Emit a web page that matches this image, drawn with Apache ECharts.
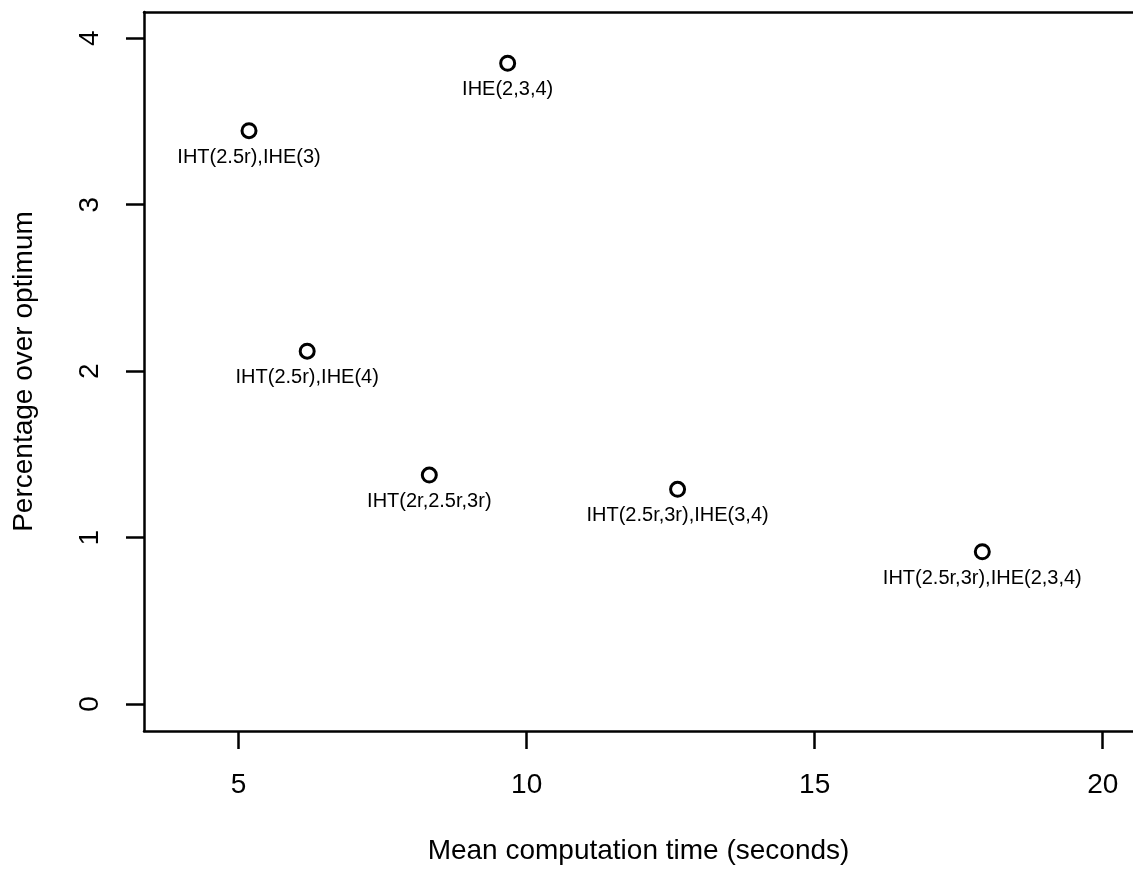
<!DOCTYPE html>
<html>
<head>
<meta charset="utf-8">
<script src="https://cdn.jsdelivr.net/npm/echarts@6/dist/echarts.min.js"></script>
<style>
  html, body { margin: 0; padding: 0; background: #fff; }
  #main { width: 1133px; height: 874px; }
</style>
</head>
<body>
<div id="main"></div>
<script>
// 方法名称、平均计算时间、超出最优百分比
var methods = ['IHT(2.5r),IHE(3)', 'IHE(2,3,4)', 'IHT(2.5r),IHE(4)', 'IHT(2r,2.5r,3r)', 'IHT(2.5r,3r),IHE(3,4)', 'IHT(2.5r,3r),IHE(2,3,4)'];
var meanTime = [5.18, 9.67, 6.19, 8.31, 12.62, 17.91];
var pctOver = [3.445, 3.85, 2.12, 1.376, 1.29, 0.915];
var xTicks = [5, 10, 15, 20];
var yTicks = [0, 1, 2, 3, 4];

var points = methods.map(function (m, i) {
    return { name: m, value: [meanTime[i], pctOver[i]] };
});

var myChart = echarts.init(document.getElementById('main'));
var font = 'Liberation Sans, Arial, sans-serif';
var xMin = 3.357, xMax = 20.526;

var option = {
    backgroundColor: '#fff',
    animation: false,
    grid: { left: 144, top: 12, right: 0, bottom: 143 },
    xAxis: [
        {
            type: 'value',
            min: xMin, max: xMax,
            name: 'Mean computation time (seconds)',
            nameLocation: 'middle',
            nameGap: 106,
            nameTextStyle: { fontFamily: font, fontSize: 28, color: '#000' },
            splitLine: { show: false },
            axisLine: { show: true, onZero: false, lineStyle: { color: '#000', width: 2.5 } },
            axisTick: { show: true, length: 18, customValues: xTicks, lineStyle: { color: '#000', width: 2.5 } },
            axisLabel: { customValues: xTicks, margin: 40, fontFamily: font, fontSize: 28, color: '#000' }
        },
        {
            // 上边框
            type: 'value',
            position: 'top',
            min: xMin, max: xMax,
            splitLine: { show: false },
            axisLine: { show: true, onZero: false, lineStyle: { color: '#000', width: 2.5 } },
            axisTick: { show: false },
            axisLabel: { show: false }
        }
    ],
    yAxis: {
        type: 'value',
        min: -0.162, max: 4.158,
        name: 'Percentage over optimum',
        nameLocation: 'middle',
        nameGap: 106,
        nameTextStyle: { fontFamily: font, fontSize: 28, color: '#000' },
        splitLine: { show: false },
        axisLine: { show: true, onZero: false, lineStyle: { color: '#000', width: 2.5 } },
        axisTick: { show: true, length: 18, customValues: yTicks, lineStyle: { color: '#000', width: 2.5 } },
        axisLabel: { customValues: yTicks, rotate: 90, margin: 40, fontFamily: font, fontSize: 28, color: '#000' }
    },
    series: [
        {
            type: 'scatter',
            data: points,
            symbol: 'circle',
            symbolSize: 14,
            itemStyle: { color: '#fff', borderColor: '#000', borderWidth: 3, opacity: 1 },
            label: {
                show: true,
                position: 'bottom',
                distance: 8,
                formatter: '{b}',
                fontFamily: font,
                fontSize: 20,
                color: '#000'
            }
        }
    ]
};

myChart.setOption(option);
</script>
</body>
</html>
